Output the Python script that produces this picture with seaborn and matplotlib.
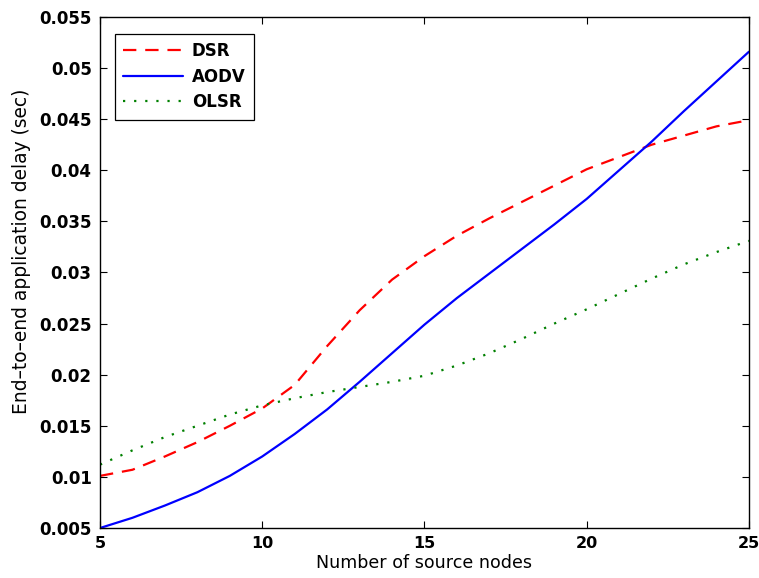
import matplotlib
matplotlib.use("Agg")
import matplotlib.pyplot as plt
import seaborn as sns
import pandas as pd

# Number of source nodes
nodes = list(range(5, 26))

# End-to-end application delay (sec) per routing protocol
dsr = [0.0101, 0.0107, 0.0120, 0.0134, 0.0150, 0.0167, 0.0190, 0.0228, 0.0263,
       0.0293, 0.0316, 0.0336, 0.0353, 0.0369, 0.0385, 0.0401, 0.0413, 0.0425,
       0.0434, 0.0443, 0.0449]
aodv = [0.0050, 0.0060, 0.0072, 0.0085, 0.0101, 0.0120, 0.0142, 0.0166, 0.0193,
        0.0221, 0.0249, 0.0275, 0.0299, 0.0323, 0.0347, 0.0372, 0.0400, 0.0428,
        0.0458, 0.0487, 0.0516]
olsr = [0.0112, 0.0126, 0.0139, 0.0150, 0.0161, 0.0170, 0.0177, 0.0183, 0.0188,
        0.0193, 0.0199, 0.0209, 0.0221, 0.0235, 0.0250, 0.0264, 0.0279, 0.0294,
        0.0308, 0.0320, 0.0331]

protocols = ["DSR", "AODV", "OLSR"]
x_ticks = [5, 10, 15, 20, 25]
y_ticks = [0.005, 0.01, 0.015, 0.02, 0.025, 0.03, 0.035, 0.04, 0.045, 0.05, 0.055]
y_tick_labels = ["0.005", "0.01", "0.015", "0.02", "0.025", "0.03", "0.035",
                 "0.04", "0.045", "0.05", "0.055"]

df = pd.DataFrame({
    "nodes": nodes * 3,
    "delay": dsr + aodv + olsr,
    "protocol": ["DSR"] * len(nodes) + ["AODV"] * len(nodes) + ["OLSR"] * len(nodes),
})

sns.set_theme(style="white")
plt.rcParams["font.family"] = ["DejaVu Sans"]
plt.rcParams.update({
    "text.color": "black",
    "axes.labelcolor": "black",
    "xtick.color": "black",
    "ytick.color": "black",
})

fig = plt.figure(figsize=(7.59, 5.78), dpi=100)
ax = fig.add_axes([0.1318, 0.0865, 0.8549, 0.8841])

palette = {"DSR": "#ff0000", "AODV": "#0000ff", "OLSR": "#008000"}
dashes = {"DSR": (6, 4), "AODV": "", "OLSR": (1, 4)}

sns.lineplot(data=df, x="nodes", y="delay", hue="protocol", style="protocol",
             hue_order=protocols, style_order=protocols,
             palette=palette, dashes=dashes, linewidth=1.6, ax=ax)

ax.set_xlim(5, 25)
ax.set_ylim(0.005, 0.055)
ax.set_xticks(x_ticks)
ax.set_xticklabels([str(v) for v in x_ticks], fontweight="bold", fontsize=11.5)
ax.set_yticks(y_ticks)
ax.set_yticklabels(y_tick_labels, fontweight="bold", fontsize=12)
ax.tick_params(direction="in", length=5, width=0.8, color="black",
               top=True, right=True, bottom=True, left=True, pad=6)
for s in ax.spines.values():
    s.set_visible(True)
    s.set_color("black")
    s.set_linewidth(1.0)

ax.set_xlabel("Number of source nodes", fontsize=12.6, labelpad=2)
ax.set_ylabel("End\u2013to\u2013end application delay (sec)", fontsize=13.4)
ax.yaxis.set_label_coords(-0.106, 0.542)

leg = ax.legend(loc="upper left", bbox_to_anchor=(0.023, 0.967), borderaxespad=0,
                frameon=True, fancybox=False, edgecolor="black", framealpha=1,
                handlelength=3.6, handletextpad=0.5, borderpad=0.5,
                labelspacing=0.45,
                prop={"weight": "bold", "size": 12})
leg.get_frame().set_linewidth(0.9)

fig.savefig("out.png", dpi=100)
